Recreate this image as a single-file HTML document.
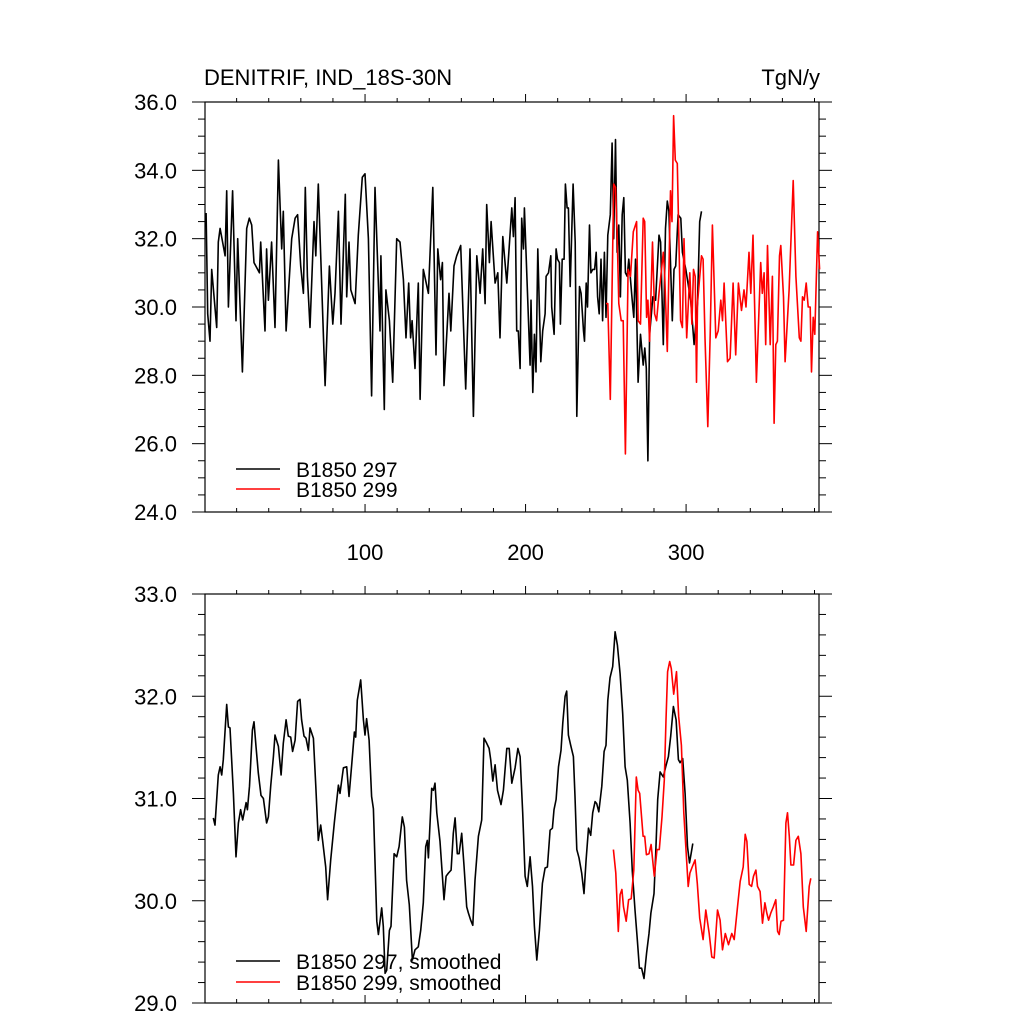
<!DOCTYPE html>
<html><head><meta charset="utf-8"><style>
body{margin:0;background:#fff;}
svg{display:block;font-family:"Liberation Sans",Arial,sans-serif;}
</style></head><body>
<svg id="chart" width="1024" height="1024" viewBox="0 0 1024 1024" xmlns="http://www.w3.org/2000/svg">
<text x="204" y="85" font-size="22">DENITRIF, IND_18S-30N</text>
<text x="820" y="85" font-size="22" text-anchor="end">TgN/y</text>
<g id="top"></g>
<g id="bot"></g>
</svg>
<script>
const topBlackYears=[1,2,3.4,4.5,7.6,8.6,9.7,12.8,13.8,14.9,17.5,19.6,20.7,23.6,26.3,27.9,29.4,30.8,34.2,35,37.7,38.7,39.8,41.8,43.9,46,48.1,49.1,50.8,54.3,56.4,58,59.9,61.6,62.8,64.1,65.7,68.2,69.3,70.9,75.1,77.8,79.9,81.3,83.4,85,87.7,88.6,90,91.1,93.8,95.8,98.3,100,102.1,104.1,106.2,109.3,109.9,112,113,115.2,117.2,119.7,121.8,123.9,125.5,127.2,128.4,129.3,131.1,133.2,134.3,136.3,139.5,142.2,144.2,145.3,147.1,148.2,149.2,152.3,153.4,155.4,157.1,159.6,162.7,165.4,167.5,169.6,171.7,173.3,174.8,175.8,177.5,178.5,181,182.7,184.1,185.8,188.3,191.4,192.4,193.5,194.5,195.5,196.6,197.6,198.7,199.3,202.8,203.4,204.5,205.5,206.5,207.6,209.5,210.7,212.2,212.8,214.3,215.7,216.3,217.8,219,219.9,221.1,221.7,222.8,224,224.8,225.9,226.7,227.8,229.6,230.9,231.9,233.6,234.6,236.1,236.7,237.8,238.6,239.8,240.7,241.9,243,244,244.9,245.9,247,248,249.1,250.1,251.2,252.8,253.9,254.9,256,257,258.1,259.1,260.2,261.2,262.2,263.3,264.3,266.4,267.4,268.5,270.1,271.6,273.3,274.3,275.2,276.2,277.3,279.3,281,283.1,284.1,285.8,287.2,288.3,289.3,291.4,292.5,293.5,295,296.7,297.7,299.8,302.9,305,307.1,308.5,309.6];
const topBlackValues=[32.75,29.8,29.0,31.1,29.4,31.9,32.3,31.5,33.4,30.0,33.4,29.6,32.0,28.1,32.3,32.6,32.4,31.3,31.0,31.9,29.3,31.7,30.2,31.9,29.4,34.3,31.7,32.8,29.3,32.0,32.6,32.7,31.2,30.4,33.5,30.9,29.4,32.5,31.5,33.6,27.7,31.2,29.5,30.4,32.8,29.5,33.3,30.3,31.9,30.5,30.1,32.1,33.8,33.9,32.0,27.4,33.5,29.3,31.5,27.0,30.5,29.6,27.8,32.0,31.9,30.8,29.1,30.7,29.1,29.6,28.2,30.7,27.3,31.1,30.4,33.5,28.6,31.7,30.8,31.3,27.7,30.4,29.3,31.2,31.5,31.8,27.6,31.7,26.8,31.5,30.4,31.7,30.1,33.0,31.3,32.5,30.7,31.0,29.1,32.06,30.7,32.9,32.06,33.2,29.3,29.3,28.2,32.6,31.7,32.9,28.3,30.2,27.5,29.2,28.1,31.7,28.4,29.3,29.8,30.9,31.0,31.5,30.0,29.2,31.7,31.4,31.3,29.5,31.4,31.4,33.6,32.9,32.9,30.6,33.6,31.9,26.8,30.6,30.4,29.3,29.0,30.7,30.0,32.4,31.0,31.1,31.1,31.6,30.3,29.8,31.4,29.6,31.6,29.7,32.1,32.7,34.8,32.0,34.9,31.6,32.4,30.3,32.7,33.2,31.0,30.9,31.4,30.2,29.7,31.4,27.8,29.2,28.3,28.8,28.2,25.5,29.2,30.3,30.2,32.1,31.9,28.9,32.3,33.1,32.8,29.6,31.1,31.2,32.7,32.6,31.6,31.1,30.2,28.9,30.1,32.5,32.8];
const topRedYears=[250.1,251.2,252.8,254.9,256,257,258.1,259.6,260.8,262.2,263.9,265.4,267.1,269.2,270.1,271.6,273.3,274.2,275.4,276.2,277.3,279.1,280.4,281.6,283.1,285.8,286.6,288.3,290.3,291.2,292.2,293.3,294.5,296.6,297.7,298.7,300.4,302.3,303.6,304.6,305.7,306.5,307.1,308.2,309.6,310.6,311.8,313.5,315,316.4,318.5,320,321.6,322.7,323.7,325.8,327.4,329.3,330.9,332.6,334.5,336.1,337.3,339.2,340.3,341.7,343.8,346.5,347.5,348.6,349.6,350.7,352.4,353.8,354.8,355.9,356.9,358.2,359,360.7,361.7,364.2,366.7,368.4,370.5,371.5,372.5,373.6,374.8,376.1,377.3,378.1,379.2,380.2,381.9,383.2];
const topRedValues=[30.1,30.1,27.3,33.6,33.5,32.2,30.1,29.6,29.6,25.7,31.1,30.9,32.2,32.5,29.6,29.5,32.6,32.5,29.7,30.2,29.0,31.9,29.8,29.6,30.4,31.6,31.0,28.7,33.4,32.5,35.6,34.3,34.2,29.6,29.4,32.0,29.1,31.0,29.5,31.1,30.9,27.8,30.1,30.7,31.5,31.4,29.1,26.5,29.2,32.4,29.1,29.3,30.2,29.6,30.7,28.4,28.5,30.7,28.6,30.7,29.9,30.5,30.0,31.6,30.4,32.1,27.8,31.3,30.4,31.0,28.9,31.8,28.9,30.9,26.6,28.9,29.0,31.5,31.8,30.3,28.4,30.5,33.7,30.9,29.1,29.0,30.3,30.2,30.7,30.0,30.0,28.1,29.7,29.2,32.2,31.1];
const botBlackYears=[5.5,6.5,8.6,9.7,10.7,11.7,13.8,14.9,15.9,18,19.6,21.1,22.5,23.8,25.9,26.7,28,29.8,30.8,32.1,33.5,35.2,36.7,38.7,39.8,41.2,42.9,43.9,46,47.7,49.1,50.8,52.2,53.7,54.9,56.4,58,59.5,60.5,62,63.2,64.7,65.7,67.8,69.3,70.9,72.4,73.6,75.5,76.7,78.6,80.9,83.4,84.4,86.5,88.6,90,91.7,93.4,94.2,95.2,97.3,99,100,101,102.5,104.1,105.2,107.3,108.3,110.4,111.4,112.5,113.5,115.2,116.2,118.1,119.7,121.2,123.2,124.5,125.9,127.6,129.5,131.1,133.2,134.7,136.3,137.8,138.8,139.5,141.5,142.6,143.6,144.7,146.7,148.2,149.2,150.5,151.9,153.6,155,156.1,157.5,158.6,160.2,161.7,163.3,164.4,165.8,167.1,168.5,170.6,172.7,174.1,175.8,177.3,178.3,179.6,181,182.5,184.7,186.2,187.3,188.3,189.8,191.4,193.5,195.2,196.6,198.2,199.7,201.1,202.8,204.3,205.5,207,208.6,210.5,212.2,213.6,215.3,216.7,217.7,219,220.5,222.1,223.2,224.6,225.6,226.7,228.1,229.8,230.8,231.9,233.3,235,236.4,237.7,239.2,240.6,241.8,243.3,244.3,245.6,247.5,248.9,250.1,251.2,252.6,254.3,255.8,257.2,258.9,260.5,262,263.4,265.1,266.5,268.2,269.6,270.9,272.3,273.8,275.4,276.9,278.1,280,281.1,282.3,283.8,285.8,287.3,289,290.4,292.1,293.8,295.2,296.3,297.9,299.4,300.9,302.1,303.1,304.2];
const botBlackValues=[30.81,30.74,31.23,31.31,31.23,31.38,31.92,31.7,31.69,31.05,30.43,30.76,30.89,30.79,30.96,30.89,31.12,31.67,31.75,31.51,31.25,31.03,31.0,30.76,30.82,31.12,31.41,31.62,31.51,31.23,31.54,31.77,31.61,31.6,31.46,31.57,31.95,31.97,31.77,31.61,31.59,31.47,31.69,31.59,31.12,30.59,30.74,30.58,30.33,30.01,30.4,30.77,31.13,31.05,31.3,31.31,31.02,31.33,31.65,31.6,31.96,32.16,31.77,31.62,31.78,31.57,31.02,30.9,29.8,29.67,29.93,29.75,29.29,29.32,29.71,29.75,30.46,30.43,30.53,30.82,30.72,30.2,29.96,29.42,29.52,29.55,29.71,29.98,30.53,30.59,30.42,31.1,31.08,31.15,30.86,30.58,30.24,30.01,30.24,30.27,30.3,30.66,30.81,30.46,30.46,30.66,30.33,29.94,29.88,29.81,29.76,30.2,30.63,30.79,31.59,31.54,31.49,31.38,31.17,31.33,31.08,30.94,31.08,31.3,31.49,31.49,31.15,31.3,31.49,31.41,30.86,30.24,30.14,30.43,30.14,29.75,29.42,29.71,30.17,30.32,30.33,30.69,30.71,30.89,30.99,31.31,31.47,31.74,32.0,32.05,31.62,31.52,31.41,31.02,30.5,30.42,30.27,30.07,30.4,30.71,30.64,30.86,30.97,30.95,30.87,31.12,31.46,31.52,31.96,32.18,32.29,32.63,32.5,32.22,31.83,31.31,31.18,30.76,30.29,29.91,29.62,29.34,29.34,29.24,29.49,29.68,29.88,30.07,30.46,30.99,31.26,31.21,31.31,31.41,31.61,31.9,31.77,31.38,31.35,31.39,31.05,30.53,30.37,30.46,30.56];
const botRedYears=[254.7,256.2,257.8,258.9,260,261,262.7,264.2,265.8,267.4,269,270.1,271.1,273.2,274.2,275.3,276.9,278.2,280.2,281.9,283.3,285,286.4,287.5,288.5,289.8,290.8,292.3,294,295.4,297.1,298.6,300.3,301.3,302.4,303.8,305.6,307,308.5,310.6,312.3,314.4,316,317.5,319.6,321.2,322.7,324.4,326.4,328.5,330,332,333.7,335.6,336.8,337.9,339.3,340.8,342,343.5,344.5,346.1,347.6,349.1,350.3,351.4,352.8,354.3,355.9,357,358,359.1,360.7,362.2,363.2,364.3,365.3,367,368.4,369.9,371.5,373,374.8,376.7,377.7];
const botRedValues=[30.5,30.27,29.7,30.06,30.11,29.94,29.8,30.01,30.02,30.3,31.21,31.08,31.05,30.63,30.63,30.45,30.46,30.55,30.24,30.5,30.5,30.82,31.18,31.77,32.24,32.34,32.27,32.02,32.24,31.8,31.52,30.86,30.4,30.14,30.27,30.33,30.4,30.17,29.83,29.62,29.91,29.68,29.45,29.44,29.91,29.81,29.52,29.68,29.57,29.68,29.62,29.94,30.19,30.33,30.65,30.58,30.16,30.14,30.24,30.3,30.14,30.09,29.78,29.98,29.88,29.81,29.88,29.94,30.01,29.7,29.67,29.8,29.81,30.76,30.86,30.63,30.35,30.35,30.59,30.63,30.46,29.94,29.7,30.14,30.22];
const topYTicks=["24.0","26.0","28.0","30.0","32.0","34.0","36.0"];
const botYTicks=["29.0","30.0","31.0","32.0","33.0"];
const xTickLabels=["100","200","300"];

const NS="http://www.w3.org/2000/svg";
const L=205,R=819,XMIN=0.3,XMAX=382.8;
const sx=v=>L+(v-XMIN)/(XMAX-XMIN)*(R-L);
function mk(g,tag,at){const e=document.createElementNS(NS,tag);for(const k in at)e.setAttribute(k,at[k]);g.appendChild(e);return e;}
function panel(g,T,B,ymin,ymax,ylabels,minorStep,showX,series,legend){
  const sy=v=>B-(v-ymin)/(ymax-ymin)*(B-T);
  let fr=mk(g,'rect',{x:L,y:T,width:R-L,height:B-T,fill:'none',stroke:'#000','stroke-width':1.2});
  
  for(let v=ymin;v<=ymax+1e-9;v+=minorStep){
    const major=ylabels.some(s=>Math.abs(parseFloat(s)-v)<1e-6);
    const len=major?13:7;
    mk(g,'line',{x1:L-len,x2:L,y1:sy(v),y2:sy(v),stroke:'#000','stroke-width':1});
    mk(g,'line',{x1:R,x2:R+len,y1:sy(v),y2:sy(v),stroke:'#000','stroke-width':1});
  }
  ylabels.forEach(s=>{const t=mk(g,'text',{x:177,y:sy(parseFloat(s))+8,'font-size':22,'text-anchor':'end'});t.textContent=s;
    });
  for(let v=20;v<XMAX;v+=20){
    const major=v%100===0, len=major?8:4;
    mk(g,'line',{x1:sx(v),x2:sx(v),y1:T-len,y2:T,stroke:'#000','stroke-width':1});
    mk(g,'line',{x1:sx(v),x2:sx(v),y1:B,y2:B-len,stroke:'#000','stroke-width':1});
  }
  if(showX) xTickLabels.forEach(s=>{const t=mk(g,'text',{x:sx(parseFloat(s)),y:B+48,'font-size':22,'text-anchor':'middle'});t.textContent=s;
    });
  series.forEach(s=>{
    const d=s.x.map((x,i)=>(i?'L':'M')+sx(x).toFixed(1)+','+sy(s.y[i]).toFixed(1)).join('');
    const p=mk(g,'path',{d:d,fill:'none',stroke:s.c,'stroke-width':1.6,'stroke-linejoin':'round'});
    
  });
  legend.forEach((lg,i)=>{
    const y=lg.y;
    const l=mk(g,'line',{x1:236,x2:280,y1:y,y2:y,stroke:lg.c,'stroke-width':1.6});
    
    const t=mk(g,'text',{x:296,y:y+8,'font-size':21});t.textContent=lg.t;
    
  });
}
panel(document.getElementById('top'),102,512,24,36,topYTicks,0.5,true,
 [{x:topBlackYears,y:topBlackValues,c:'#000',n:'line-b1850-297'},{x:topRedYears,y:topRedValues,c:'#f00',n:'line-b1850-299'}],
 [{y:469,c:'#000',t:'B1850 297'},{y:489,c:'#f00',t:'B1850 299'}]);
panel(document.getElementById('bot'),594,1003,29,33,botYTicks,0.2,false,
 [{x:botBlackYears,y:botBlackValues,c:'#000',n:'line-b1850-297-smoothed'},{x:botRedYears,y:botRedValues,c:'#f00',n:'line-b1850-299-smoothed'}],
 [{y:961,c:'#000',t:'B1850 297, smoothed'},{y:982,c:'#f00',t:'B1850 299, smoothed'}]);
</script>
</body></html>
